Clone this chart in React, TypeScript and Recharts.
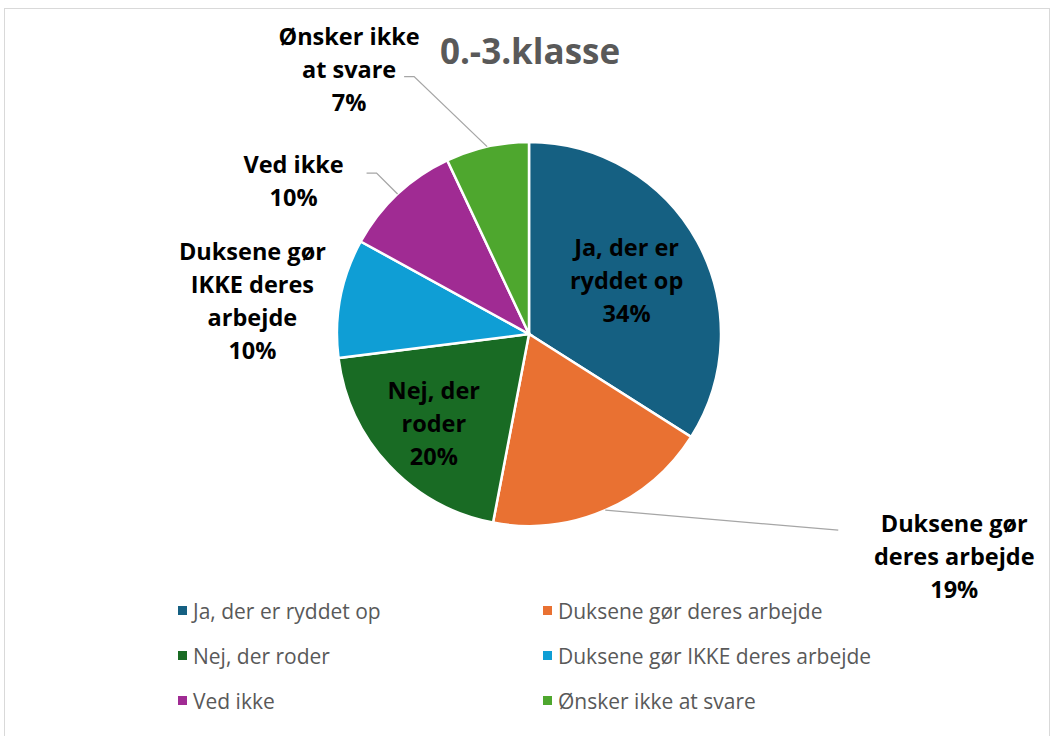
import React from 'react';
import { PieChart, Pie, Cell, Legend } from 'recharts';

const categories = [
  'Ja, der er ryddet op',
  'Duksene gør deres arbejde',
  'Nej, der roder',
  'Duksene gør IKKE deres arbejde',
  'Ved ikke',
  'Ønsker ikke at svare',
];
const shares = [34, 19, 20, 10, 10, 7];
const labelLines = [
  ['Ja, der er', 'ryddet op'],
  ['Duksene gør', 'deres arbejde'],
  ['Nej, der', 'roder'],
  ['Duksene gør', 'IKKE deres', 'arbejde'],
  ['Ved ikke'],
  ['Ønsker ikke', 'at svare'],
];
const colors = ['#156082', '#E97132', '#196B24', '#0F9ED5', '#A02B93', '#4EA72E'];

const data = categories.map((name, i) => ({ name, value: shares[i] }));

const FONT = '"Open Sans", "Liberation Sans", sans-serif';
const RAD = Math.PI / 180;

// how each data label sits: inside at a radius fraction, or outside offset from the slice edge
const placement: Array<any> = [
  { inside: 0.58 },
  { text: [349, 46], elbow: [233, 20] },
  { inside: 0.68 },
  { text: [-88, 2] },
  { text: [-104, -14], elbow: [-21, -21], end: [-31, -21] },
  { text: [-138, -78], elbow: [-73, -70], end: [-83, -70] },
];

const renderLabel = (props: any) => {
  const { cx, cy, midAngle, outerRadius, index, value } = props;
  const p = placement[index];
  const cos = Math.cos(-midAngle * RAD);
  const sin = Math.sin(-midAngle * RAD);
  const lines = [...labelLines[index], `${value}%`];
  let tx: number;
  let ty: number;
  let path: string | null = null;
  if (p.inside) {
    tx = cx + outerRadius * p.inside * cos;
    ty = cy + outerRadius * p.inside * sin;
  } else {
    const ex = cx + outerRadius * cos;
    const ey = cy + outerRadius * sin;
    tx = ex + p.text[0];
    ty = ey + p.text[1];
    if (p.elbow) {
      const pts = [[ex, ey], [ex + p.elbow[0], ey + p.elbow[1]]];
      if (p.end) pts.push([ex + p.end[0], ey + p.end[1]]);
      path = 'M' + pts.map((q) => q.join(',')).join('L');
    }
  }
  const lh = 33;
  const y0 = ty - ((lines.length - 1) * lh) / 2;
  return (
    <g>
      {path && <path d={path} stroke="#A6A6A6" strokeWidth={1.3} fill="none" />}
      <text
        x={tx}
        y={y0}
        textAnchor="middle"
        dominantBaseline="central"
        fill="#000"
        fontFamily={FONT}
        fontWeight={700}
        fontSize={23.5}
      >
        {lines.map((l, i) => (
          <tspan key={i} x={tx} y={y0 + i * lh}>
            {l}
          </tspan>
        ))}
      </text>
    </g>
  );
};

const renderLegend = () => (
  <div
    style={{
      display: 'grid',
      gridTemplateColumns: '365px 380px',
      fontFamily: FONT,
      fontSize: 21,
      color: '#595959',
    }}
  >
    {categories.map((name, i) => (
      <div key={name} style={{ display: 'flex', alignItems: 'center', height: 45 }}>
        <span
          style={{
            width: 9,
            height: 9,
            background: colors[i],
            marginRight: 6,
            display: 'inline-block',
          }}
        />
        {name}
      </div>
    ))}
  </div>
);

export default function App() {
  return (
    <div style={{ position: 'absolute', left: 0, top: 0, width: 1053, height: 736, background: '#fff' }}>
      <div
        style={{
          position: 'absolute',
          left: 4,
          top: 8,
          width: 1046,
          height: 740,
          border: '1.5px solid #D9D9D9',
          boxSizing: 'border-box',
        }}
      />
      <div
        style={{
          position: 'absolute',
          left: 0,
          width: 1060,
          top: 27,
          textAlign: 'center',
          fontFamily: FONT,
          fontWeight: 700,
          fontSize: 35,
          color: '#595959',
        }}
      >
        0.-3.klasse
      </div>
      <PieChart
        width={1053}
        height={736}
        margin={{ top: 0, right: 0, bottom: 0, left: 0 }}
        style={{ position: 'absolute', left: 0, top: 0 }}
      >
        <Pie
          data={data}
          dataKey="value"
          nameKey="name"
          cx={529}
          cy={334}
          outerRadius={192}
          startAngle={90}
          endAngle={-270}
          stroke="#fff"
          strokeWidth={2.5}
          label={renderLabel}
          labelLine={false}
          isAnimationActive={false}
        >
          {data.map((d, i) => (
            <Cell key={d.name} fill={colors[i]} />
          ))}
        </Pie>
        <Legend
          content={renderLegend}
          wrapperStyle={{ position: 'absolute', left: 178, top: 588, width: 780 }}
        />
      </PieChart>
    </div>
  );
}
